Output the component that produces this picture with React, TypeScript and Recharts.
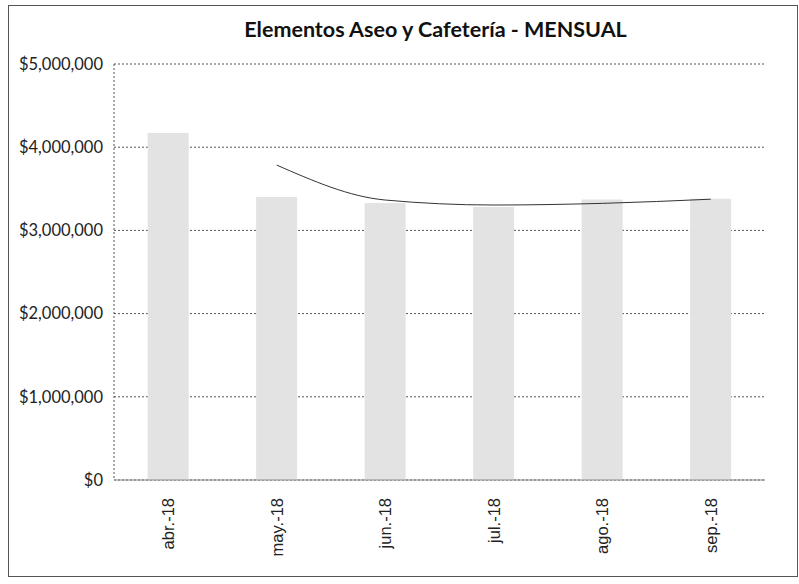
import { ComposedChart, Bar, Line, XAxis, YAxis, CartesianGrid } from 'recharts';

// monthly values
const months = ['abr.-18', 'may.-18', 'jun.-18', 'jul.-18', 'ago.-18', 'sep.-18'];
const gastos = [4170000, 3400000, 3330000, 3280000, 3370000, 3380000];
// 2-period moving average trend (none for the first month)
const tendencia = [null, 3785000, 3365000, 3305000, 3325000, 3375000];
const yTicks = [0, 1000000, 2000000, 3000000, 4000000, 5000000];

const data = months.map((mes, i) => ({ mes, gasto: gastos[i], tendencia: tendencia[i] }));

const money = (v: number) => `$${v.toLocaleString('en-US')}`;

function MonthTick({ x, y, payload }: any) {
  const ty = y + 10;
  return (
    <text
      x={x}
      y={ty}
      transform={`rotate(-90, ${x}, ${ty})`}
      textAnchor="end"
      dominantBaseline="central"
      fontFamily="'Liberation Sans', Arial, sans-serif"
      fontSize={16.5}
      fill="#222"
    >
      {payload.value}
    </text>
  );
}

export default function App() {
  return (
    <div style={{ position: 'absolute', left: 0, top: 0, width: 799, height: 584, background: '#fff' }}>
      <div
        style={{
          position: 'absolute',
          left: 8,
          top: 5,
          width: 790,
          height: 572,
          border: '1px solid #555',
          boxSizing: 'border-box',
        }}
      />
      <div
        style={{
          position: 'absolute',
          left: 110,
          width: 651,
          top: 16,
          textAlign: 'center',
          fontFamily: 'Lato, sans-serif',
          fontWeight: 700,
          fontSize: 21.5,
          color: '#111',
        }}
      >
        Elementos Aseo y Cafetería - MENSUAL
      </div>
      <div style={{ position: 'absolute', left: 0, top: 0 }}>
        <ComposedChart
          width={799}
          height={584}
          data={data}
          margin={{ top: 64, right: 34, bottom: 14, left: 14 }}
          barCategoryGap="31%"
        >
          <CartesianGrid vertical={false} stroke="#555" strokeDasharray="2 2" />
          <XAxis
            dataKey="mes"
            height={90}
            interval={0}
            tickLine={false}
            axisLine={{ stroke: '#888' }}
            tick={<MonthTick />}
          />
          <YAxis
            width={100}
            domain={[0, 5000000]}
            ticks={yTicks}
            tickFormatter={money}
            tickLine={false}
            axisLine={{ stroke: '#555', strokeDasharray: '2 2' }}
            tick={{ fontFamily: 'Lato, sans-serif', fontSize: 16.5, fill: '#222' }}
            tickMargin={5}
          />
          <Bar dataKey="gasto" fill="#e3e3e3" isAnimationActive={false} />
          <Line
            dataKey="tendencia"
            type="monotone"
            stroke="#333"
            strokeWidth={1}
            dot={false}
            isAnimationActive={false}
          />
        </ComposedChart>
      </div>
    </div>
  );
}
